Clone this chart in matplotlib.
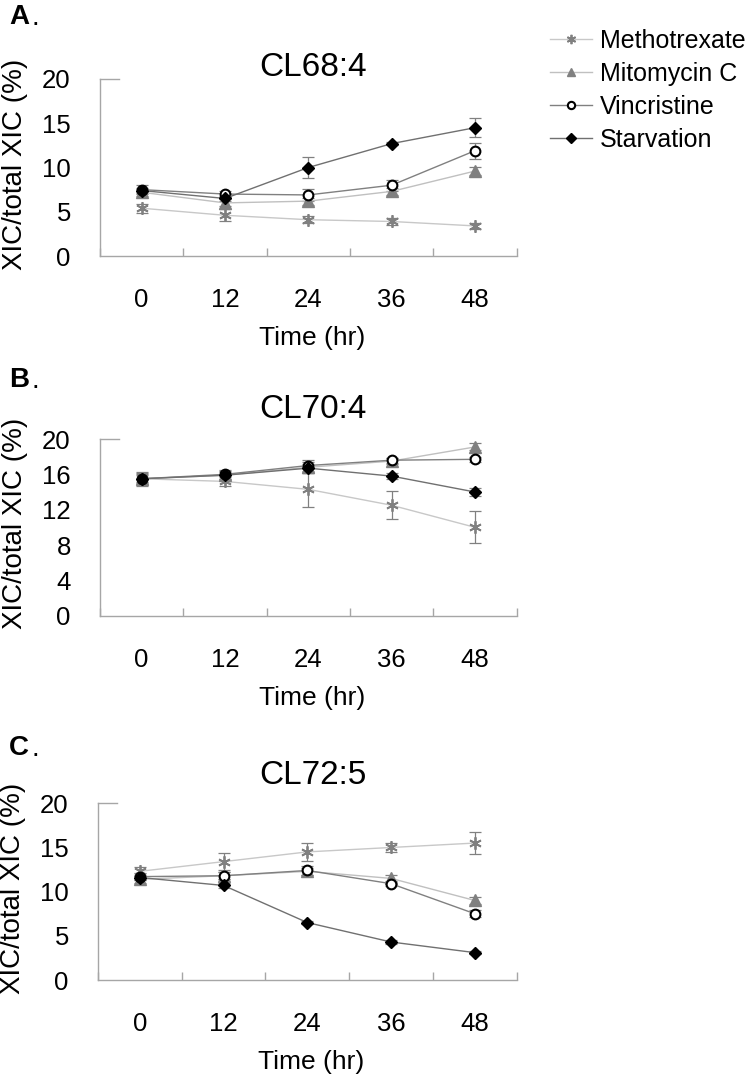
import numpy as np
import matplotlib
matplotlib.use('Agg')
import matplotlib.pyplot as plt
from matplotlib.lines import Line2D

plt.rcParams['font.family'] = ['Liberation Sans', 'DejaVu Sans']

# ---- data ----
time_labels = ['0', '12', '24', '36', '48']
series_names = ['Methotrexate', 'Mitomycin C', 'Vincristine', 'Starvation']

# CL68:4
a_met = [5.4, 4.6, 4.1, 3.9, 3.4]
a_met_err = [0.5, 0.7, 0.4, 0.4, 0.3]
a_mito = [7.2, 6.0, 6.2, 7.3, 9.6]
a_mito_err = [0.4, 0.4, 0.4, 0.4, 0.5]
a_vinc = [7.5, 7.0, 6.9, 8.0, 11.9]
a_vinc_err = [0.5, 0.3, 0.7, 0.6, 0.9]
a_starv = [7.4, 6.5, 10.0, 12.7, 14.5]
a_starv_err = [0.3, 0.3, 1.2, 0.2, 1.05]

# CL70:4
b_met = [15.5, 15.2, 14.3, 12.5, 10.0]
b_met_err = [0.6, 0.5, 2.0, 1.6, 1.8]
b_mito = [15.5, 15.9, 16.8, 17.5, 19.1]
b_mito_err = [0.4, 0.4, 0.6, 0.3, 0.4]
b_vinc = [15.5, 16.0, 17.0, 17.6, 17.7]
b_vinc_err = [0.5, 0.5, 0.6, 0.3, 0.3]
b_starv = [15.5, 15.9, 16.7, 15.8, 14.0]
b_starv_err = [0.8, 0.5, 0.5, 0.3, 0.4]

# CL72:5
c_met = [12.3, 13.4, 14.5, 15.0, 15.5]
c_met_err = [0.5, 1.0, 1.0, 0.5, 1.2]
c_mito = [11.4, 11.8, 12.3, 11.5, 9.0]
c_mito_err = [0.4, 0.4, 0.4, 0.4, 0.4]
c_vinc = [11.7, 11.8, 12.4, 10.9, 7.5]
c_vinc_err = [0.4, 0.4, 0.5, 0.3, 0.4]
c_starv = [11.6, 10.7, 6.5, 4.3, 3.1]
c_starv_err = [0.3, 0.3, 0.2, 0.2, 0.2]

# marker / line styles per series
styles = [
    dict(marker=(6, 2, 0), ms=9, mew=1.3, mfc='#808080', mec='#808080', color='#c8c8c8'),
    dict(marker='^', ms=8, mew=1, mfc='#808080', mec='#808080', color='#c0c0c0'),
    dict(marker='o', ms=7, mew=1.5, mfc='white', mec='black', color='#808080'),
    dict(marker='D', ms=6.5, mew=1, mfc='black', mec='black', color='#707070'),
]

W, H = 748, 1081
fig = plt.figure(figsize=(W / 100, H / 100), dpi=100)

panels = [
    ('A', 'CL68:4', [a_met, a_mito, a_vinc, a_starv],
     [a_met_err, a_mito_err, a_vinc_err, a_starv_err], [0, 5, 10, 15, 20],
     (100, 79, 516.7, 256), 67, 17),
    ('B', 'CL70:4', [b_met, b_mito, b_vinc, b_starv],
     [b_met_err, b_mito_err, b_vinc_err, b_starv_err], [0, 4, 8, 12, 16, 20],
     (100, 439, 516.7, 615.7), 410, 380),
    ('C', 'CL72:5', [c_met, c_mito, c_vinc, c_starv],
     [c_met_err, c_mito_err, c_vinc_err, c_starv_err], [0, 5, 10, 15, 20],
     (98, 803.3, 516.7, 980), 775, 748),
]

x = np.arange(len(time_labels))
spine_c = '#a6a6a6'

for letter, title, vals, errs, yticks, box, title_y, letter_y in panels:
    x0, y0, x1, y1 = box
    ax = fig.add_axes([x0 / W, 1 - y1 / H, (x1 - x0) / W, (y1 - y0) / H])

    for v, e, st in zip(vals, errs, styles):
        ax.errorbar(x, v, yerr=e, fmt='none', ecolor='#808080', elinewidth=0.9,
                    capsize=4, capthick=0.9, zorder=2)
        ax.plot(x, v, linestyle='-', lw=1, zorder=3, **st)

    ax.set_xlim(-0.5, 4.5)
    ax.set_ylim(0, 20)
    ax.set_xticks(x)
    ax.set_xticklabels(time_labels)
    ax.set_xticks(np.arange(-0.5, 5, 1), minor=True)
    ax.tick_params(axis='x', which='major', length=0, pad=23, labelsize=18.5)
    ax.tick_params(axis='x', which='minor', direction='in', length=6,
                   width=1, color=spine_c)
    ax.set_yticks(yticks)
    ax.tick_params(axis='y', length=0, pad=21, labelsize=18.5)
    ax.axhline(20, xmin=0, xmax=0.045, color=spine_c, lw=1, clip_on=False)

    for s in ['top', 'right']:
        ax.spines[s].set_visible(False)
    for s in ['left', 'bottom']:
        ax.spines[s].set_color(spine_c)
        ax.spines[s].set_linewidth(1)

    ax.text(-0.204, 0.52, 'XIC/total XIC (%)', rotation=90, fontsize=20,
            ha='center', va='center', transform=ax.transAxes)
    ax.text(0.509, -0.465, 'Time (hr)', fontsize=19,
            ha='center', va='center', transform=ax.transAxes)

    fig.text(313 / W, 1 - title_y / H, title, fontsize=24, ha='center', va='center')
    fig.text(9 / W, 1 - letter_y / H, letter, fontsize=20, fontweight='bold',
             ha='left', va='center')
    fig.text(31 / W, 1 - (letter_y + 1) / H, '.', fontsize=20, ha='left', va='center')

handles = [Line2D([0], [0], linestyle='-', lw=1, **st) for st in styles]
fig.legend(handles, series_names, loc='upper left',
           bbox_to_anchor=(550 / W, 1 - 29 / H), frameon=False, fontsize=18,
           handlelength=1.68, handletextpad=0.3, labelspacing=0.36,
           markerscale=0.75, borderpad=0, borderaxespad=0)

fig.savefig('out.png', dpi=100)
